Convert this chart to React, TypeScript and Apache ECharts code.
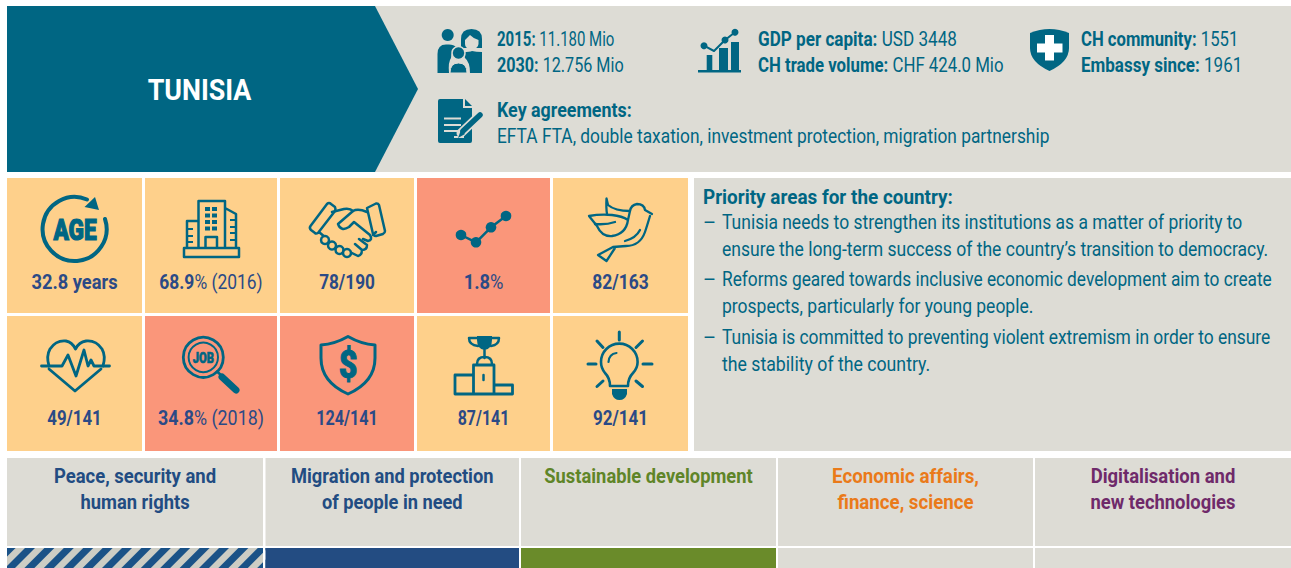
import React, { useEffect, useRef } from "react";
import * as echarts from "echarts";

const TEAL = "#006683";
const NAVY = "#2b4a86";
const BG = "#dddcd5";
const TILE = "#fed08b";
const SALMON = "#fa967a";
const FONT = "Roboto";

const country = "TUNISIA";
const headerBold = ["2015:", "2030:", "GDP per capita:", "CH trade volume:", "CH community:", "Embassy since:"];
const headerRegular = ["11.180 Mio", "12.756 Mio", "USD 3448", "CHF 424.0 Mio", "1551", "1961"];
const agreementsTitle = "Key agreements:";
const agreementsText = "EFTA FTA, double taxation, investment protection, migration partnership";

const tileBold = ["32.8 years", "68.9", "78/190", "1.8", "82/163", "49/141", "34.8", "124/141", "87/141", "92/141"];
const tileRegular = ["", "% (2016)", "", "%", "", "", "% (2018)", "", "", ""];
const tileAlert = [false, false, false, true, false, false, true, true, false, false];

const priorityTitle = "Priority areas for the country:";
const priorityBullets = [
  ["Tunisia needs to strengthen its institutions as a matter of priority to", "ensure the long-term success of the country’s transition to democracy."],
  ["Reforms geared towards inclusive economic development aim to create", "prospects, particularly for young people."],
  ["Tunisia is committed to preventing violent extremism in order to ensure", "the stability of the country."],
];

const columnTitles = [
  ["Peace, security and", "human rights"],
  ["Migration and protection", "of people in need"],
  ["Sustainable development"],
  ["Economic affairs,", "finance, science"],
  ["Digitalisation and", "new technologies"],
];
const columnColors = ["#224c82", "#224c82", "#5f8528", "#ea7a1a", "#6f2a6a"];

let shapeId = 0;
function pathEl(d: string, style: any) {
  const name = "ico" + shapeId++;
  echarts.graphic.registerShape(name, echarts.graphic.extendPath(d, {}) as any);
  return { type: name, silent: true, style };
}
const S = (d: string, lw = 2.5, color = TEAL) =>
  pathEl(d, { fill: "none", stroke: color, lineWidth: lw, lineCap: "round", lineJoin: "round" });
const F = (d: string, color = TEAL) => pathEl(d, { fill: color });
const C = (cx: number, cy: number, r: number, fill = TEAL, stroke?: string, lw = 0) => ({
  type: "circle",
  silent: true,
  shape: { cx, cy, r },
  style: { fill, stroke, lineWidth: lw },
});
const R = (x: number, y: number, width: number, height: number, fill: string) => ({
  type: "rect",
  silent: true,
  shape: { x, y, width, height },
  style: { fill },
});
const T = (x: number, y: number, text: string, size: number, color: string, weight: any, align = "left", sx = 0.86, strokeW = 0) => ({
  type: "text",
  silent: true,
  x,
  y,
  scaleX: sx,
  style: {
    text,
    fontFamily: FONT,
    fontSize: size,
    fontWeight: weight,
    fill: color,
    align,
    verticalAlign: "middle",
    ...(strokeW ? { stroke: color, lineWidth: strokeW } : {}),
  },
});
const RT = (x: number, y: number, bold: string, reg: string, size: number, color: string, align = "left", sx = 0.86, gap = " ") => ({
  type: "text",
  silent: true,
  x,
  y,
  scaleX: sx,
  style: {
    text: reg ? `{b|${bold}}{r|${gap}${reg}}` : `{b|${bold}}`,
    align,
    verticalAlign: "middle",
    rich: {
      b: { fontFamily: FONT, fontSize: size, fontWeight: 700, fill: color },
      r: { fontFamily: FONT, fontSize: size, fontWeight: 400, fill: color },
    },
  },
});

function icons() {
  const e: any[] = [];
  // people
  e.push(C(447.7, 35, 6));
  e.push(F("M437.5 73 V54 Q437.5 44.5 446 44.5 H449 Q454 44.5 456 47 Q451 52 451 58 Q448 62 449 73 Z"));
  e.push(F("M461 48 V39 Q461 29 471.5 29 Q482 29 482 39 V48 Z"));
  e.push(F("M465 40 L470 35 Q474 39 478.5 40 V44 Q478 49 471.5 49 Q465 49 465 44 Z", BG));
  e.push(F("M463 52 Q470 52 472 51 Q476 52 482 52 V73 H470 Q470 62 465 58 Z"));
  e.push(C(458.5, 53, 6.5, TEAL, BG, 1.5));
  e.push(pathEl("M450 73 Q450 63 458.5 63 Q467 63 467 73 Z", { fill: TEAL, stroke: BG, lineWidth: 1 }));
  // gdp
  e.push(R(706.7, 55, 5.6, 15, TEAL), R(719, 48, 9, 22, TEAL), R(731, 42, 8, 28, TEAL), R(698, 70, 43, 2.5, TEAL));
  e.push(S("M704 45.7 L714 51 L725 40 L735 32.3", 2));
  e.push(C(704, 45.7, 3.5), C(725, 40, 3.5), C(735, 32.3, 3.5));
  // agreements
  e.push(F("M440 99 H463 V108 H472 V141 Q472 143 470 143 H440 Q438 143 438 141 V101 Q438 99 440 99 Z"));
  e.push(F("M465 99 L472 106 H465 Z"));
  e.push(R(444, 117.5, 17, 2, BG), R(444, 124, 17, 2, BG), R(444, 130, 15, 2, BG), R(454, 136, 10, 2, BG));
  e.push(S("M461 133 L481 114", 9, BG));
  e.push(S("M463 131 L480 115", 5.5));
  e.push(F("M458 138 L461 130 L465 134 Z"));
  // ch shield
  e.push(F("M1030 33 Q1049.5 25 1069 33 V48 Q1069 62 1049.5 71 Q1030 62 1030 48 Z"));
  e.push(R(1037, 43.5, 25.5, 9, "#ffffff"), R(1045, 35, 9, 25.5, "#ffffff"));
  // age
  e.push(S("M105 219 A32 32 0 1 1 87 199.5", 4));
  e.push(F("M95 197 L99 210 L84.5 207 Z"));
  e.push(T(75, 229.5, "AGE", 29, TEAL, 900, "center", 0.78, 1.2));
  // building
  e.push(S("M184 248 H239 V257 H184 Z M198.5 248 V201 H225 V248 M225 208 L236 214 V248 M198.5 221 H187 V248 M205.5 248 V237 H217 V248", 2.5));
  for (const y of [207, 213.5, 220, 226.5]) e.push(R(205, y, 5, 4, TEAL), R(212, y, 5, 4, TEAL));
  for (const y of [219, 226, 232, 239]) e.push(R(230, y, 6, 2, TEAL));
  for (const y of [228, 235, 241]) e.push(R(187, y, 6, 2, TEAL));
  // handshake
  e.push(S("M310.5 226 L327 204 Q329 202 331 204 L335 207 Q336 209 335 211 L318 233 Q316 234 315 233 L311 230 Q309 228 310.5 226 Z", 2.5));
  e.push(S("M367 208 L376 203.5 Q378 203 379 205 L385 231 Q385 233 383 234 L376 236 Q374 236 373 234 Z", 2.5));
  e.push(S("M332 212 L344 209 Q350 208 353 211 L338 224 Q341 232 349 227 L354 222 L370 235 Q373 240 368 241 L363 239", 2.5));
  e.push(S("M353 211 Q358 208 367 212", 2.5));
  e.push(S("M319 232 L326 238 M373 235 L376 232", 2.5));
  e.push(S("M350 252 L358 256 Q362 255 362 250 L355 244 M362 250 Q367 250 367 245 L359 239", 2.5));
  for (const [x, y] of [[325, 240], [332, 245.5], [339.5, 250], [347, 253]]) e.push(C(x, y, 4, TILE, TEAL, 2.5));
  // line
  e.push(S("M461 235 L476 242.3 L491 227.3 L506 216", 2.5));
  e.push(C(461, 235, 5.3), C(476, 242.3, 5.3), C(491, 227.3, 5.3), C(506, 216, 5.3));
  // dove
  e.push(S("M652 214 L645 210 Q644 204 637 204 Q631 205 630 211 L628 220 Q626 234 612 236 Q602 237 597 226 L589 216 Q600 214 612 215 Q622 216 628 220", 2.3));
  e.push(S("M630 211 Q615 211 608 205 L606.5 198.5 Q606 208 607 214", 2.3));
  e.push(S("M650 216 Q647 226 645 232 Q640 246 626 246 L613 247 L598 255 L606.5 261 L615 248", 2.3));
  e.push(S("M595 224 Q606 225 615 222 M640 230 Q636 238 625 241", 2.3));
  // heart
  e.push(S("M49 366 Q46 356 50 349 Q56 340 66 341 Q72 342 75.5 349 Q79 342 86 341 Q96 340 102 349 Q106 356 103 366 M49 369 L75 391 L101 369", 2.8));
  e.push(S("M41.5 366 H62 L68 355 L76 376 L84 350 L88 366 L91 360 L94 366 H109.5", 2.8));
  // job
  e.push(C(203.3, 357.3, 20, "none", TEAL, 2.8), C(203.3, 357.3, 14.7, "none", TEAL, 2));
  e.push(T(203.3, 358, "JOB", 14, TEAL, 900, "center", 0.8, 0.6));
  e.push(S("M217 371.5 L222 376", 2.5), S("M222 377 L236 390", 7));
  // shield $
  e.push(S("M348 336.5 Q335 344 321 345 V358 Q321 382 348 394 Q375 382 375 358 V345 Q361 344 348 336.5 Z", 3));
  e.push(T(348, 365, "$", 38, TEAL, 900, "center", 0.85, 1));
  // podium + trophy
  e.push(S("M473.5 375 H455 V394 H512.5 V385 H494 M473.5 394 V365 H494 V394", 2.8));
  e.push(S("M483.5 375 V380", 2.5));
  e.push(F("M477 336 H492 V340 Q492 349 484.5 350 Q477 349 477 340 Z"));
  e.push(S("M477 338 H469 Q469 345 478 346 M492 338 H499 Q499 345 491 346 M484.5 350 V358", 2.5));
  e.push(S("M477 364 Q477 357 484.5 357 Q492 357 492 364", 2.5));
  // bulb
  e.push(S("M610 386 Q610 378 605 373 Q601 368 601 362 A18.3 18.3 0 1 1 637.6 362 Q637.6 368 633 373 Q628 378 628 386 Z", 2.6));
  e.push(S("M608.5 362 Q609 354 616.5 353", 2.2));
  e.push(F("M612 389 H627 V394 Q625 400 619.5 400 Q614 400 612 394 Z"));
  e.push(
    S("M619.3 332 V340 M597 341 L603 347.5 M642.5 341 L636 347.5 M588 364 H596 M643 364 H652 M597 386.5 L603 381 M642.5 386.5 L636 381", 3)
  );
  return e;
}

function buildElements() {
  const e: any[] = [];
  // header
  e.push(R(7, 6, 1284, 166, BG));
  e.push({ type: "polygon", silent: true, shape: { points: [[7, 6], [375, 6], [418, 89], [375, 172], [7, 172]] }, style: { fill: TEAL } });
  e.push(T(199.5, 89.5, country, 30, "#ffffff", 700, "center", 0.895));
  const headX = [497, 497, 758, 758, 1081, 1081];
  const headY = [39, 65, 39, 65, 39, 65];
  const headSx = [0.714, 0.77, 0.815, 0.8, 0.794, 0.81];
  headerBold.forEach((b, i) => e.push(RT(headX[i], headY[i], b, headerRegular[i], 21, TEAL, "left", headSx[i])));
  e.push(T(497, 110, agreementsTitle, 21, TEAL, 700, "left", 0.85));
  e.push(T(497, 136, agreementsText, 21, TEAL, 400, "left", 0.826));

  // tiles
  const xs = [[7, 142], [145, 277], [280, 414], [417, 550], [553, 688]];
  const ys = [[178, 313], [316, 451]];
  tileBold.forEach((b, i) => {
    const [x0, x1] = xs[i % 5];
    const [y0, y1] = ys[i < 5 ? 0 : 1];
    e.push(R(x0, y0, x1 - x0, y1 - y0, tileAlert[i] ? SALMON : TILE));
  });
  e.push(...icons());
  const tileSx = [0.87, 0.83, 0.82, 0.87, 0.83, 0.8, 0.85, 0.77, 0.76, 0.81];
  tileBold.forEach((b, i) => {
    const [x0, x1] = xs[i % 5];
    e.push(RT((x0 + x1) / 2, i < 5 ? 282 : 418, b, tileRegular[i], 21, NAVY, "center", tileSx[i], ""));
  });

  // priority panel
  e.push(R(694, 178, 597, 273, BG));
  e.push(T(703, 197, priorityTitle, 20, TEAL, 700, "left", 0.946));
  const lineY = [[223, 250], [280, 307], [338, 364]];
  const lineSx = [[0.874, 0.877], [0.865, 0.875], [0.87, 0.886]];
  priorityBullets.forEach((lines, i) => {
    e.push(T(703, lineY[i][0], "–", 20, TEAL, 400, "left", 1));
    lines.forEach((l, j) => e.push(T(722, lineY[i][j], l, 20, TEAL, 400, "left", lineSx[i][j])));
  });

  // bottom columns
  const colX = [[7, 263], [265.5, 519], [521, 776], [778, 1033], [1035, 1291]];
  const colSx = [[0.88, 0.875], [0.87, 0.867], [0.873], [0.893, 0.89], [0.88, 0.875]];
  colX.forEach(([a, b], i) => {
    e.push(R(a, 458, b - a, 88, BG));
    columnTitles[i].forEach((l, j) => e.push(T((a + b) / 2, 476 + j * 26, l, 21, columnColors[i], 700, "center", colSx[i][j])));
  });
  // strip
  e.push(R(7, 548, 256, 20, "#cdcdc4"));
  for (let k = -2; k < 15; k++) {
    const bx = 7 + k * 19.4 - 2;
    e.push({
      type: "polygon",
      silent: true,
      shape: { points: [[bx, 568], [bx + 10, 568], [bx + 30, 548], [bx + 20, 548]] },
      style: { fill: "#1a5287" },
    });
  }
  e.push(R(0, 548, 7, 20, "#ffffff"), R(263, 548, 2.5, 20, "#ffffff"));
  e.push(R(265.5, 548, 253.5, 20, "#234c82"), R(519, 548, 2, 20, "#ffffff"), R(521, 548, 255, 20, "#6a8b2a"));
  e.push(R(778, 548, 255, 20, BG), R(1035, 548, 256, 20, BG));
  return e;
}

export default function App() {
  const ref = useRef<HTMLDivElement>(null);
  useEffect(() => {
    document.body.style.margin = "0";
    const chart = echarts.init(ref.current!, undefined, { renderer: "svg" });
    chart.setOption({ animation: false, backgroundColor: "#ffffff", graphic: { elements: buildElements() } });
    return () => chart.dispose();
  }, []);
  return <div ref={ref} style={{ width: 1291, height: 568, display: "block" }} />;
}
